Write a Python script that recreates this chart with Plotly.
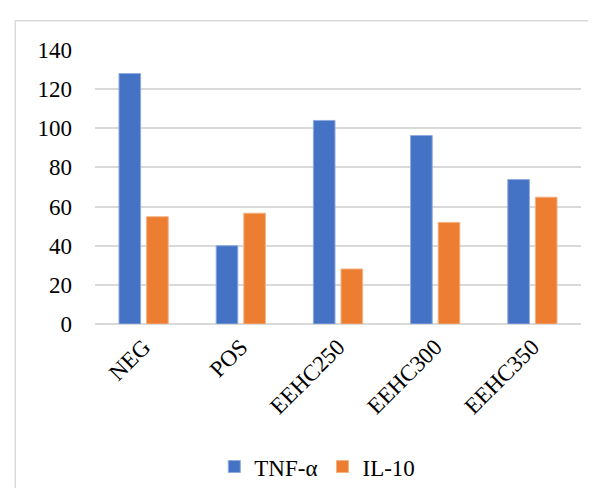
import plotly.graph_objects as go

categories = ["NEG", "POS", "EEHC250", "EEHC300", "EEHC350"]
tnf_alpha = [128, 40, 104, 96.3, 73.8]
il_10 = [54.8, 56.6, 28.1, 51.9, 64.8]
y_ticks = [0, 20, 40, 60, 80, 100, 120, 140]

FONT = "Liberation Serif"
FS = 23

fig = go.Figure()
fig.add_trace(go.Bar(x=categories, y=tnf_alpha, name="TNF-α",
                     marker=dict(color="#4472C4", line=dict(color="#8FAADC", width=1))))
fig.add_trace(go.Bar(x=categories, y=il_10, name="IL-10",
                     marker=dict(color="#ED7D31", line=dict(color="#F4B183", width=1))))

W, H = 596, 488
L, R, T, B = 86.7, 23.3, 42.3, 172.3
pw, ph = W - L - R, H - T - B

def px_x(x):
    return (x - L) / pw

def px_y(y):
    return (H - B - y) / ph

fig.update_layout(
    width=W, height=H,
    margin=dict(l=L, r=R, t=T, b=B, autoexpand=False),
    paper_bgcolor="white", plot_bgcolor="white",
    barmode="group", bargap=0.432, bargroupgap=0.217,
    font=dict(family=FONT, size=FS, color="#000000"),
    showlegend=True,
    legend=dict(orientation="h", x=px_x(309), y=px_y(458), xanchor="center", yanchor="middle",
                font=dict(family=FONT, size=FS), itemwidth=30, traceorder="normal"),
    xaxis=dict(tickangle=-45, showgrid=False, showline=False, zeroline=False,
               ticklabelstandoff=4, tickfont=dict(family=FONT, size=FS)),
    yaxis=dict(range=[0, 140], tickvals=y_ticks, showgrid=True, gridcolor="#D9D9D9", gridwidth=1.5,
               zeroline=True, zerolinecolor="#D9D9D9", zerolinewidth=1.5, showline=False,
               ticklabelstandoff=22, tickfont=dict(family=FONT, size=FS)),
    shapes=[dict(type="rect", xref="paper", yref="paper",
                 x0=px_x(7), x1=px_x(620), y0=px_y(520), y1=px_y(13),
                 line=dict(color="#D9D9D9", width=1.5), fillcolor="rgba(0,0,0,0)", layer="below")],
)

fig.write_html("out.html")
